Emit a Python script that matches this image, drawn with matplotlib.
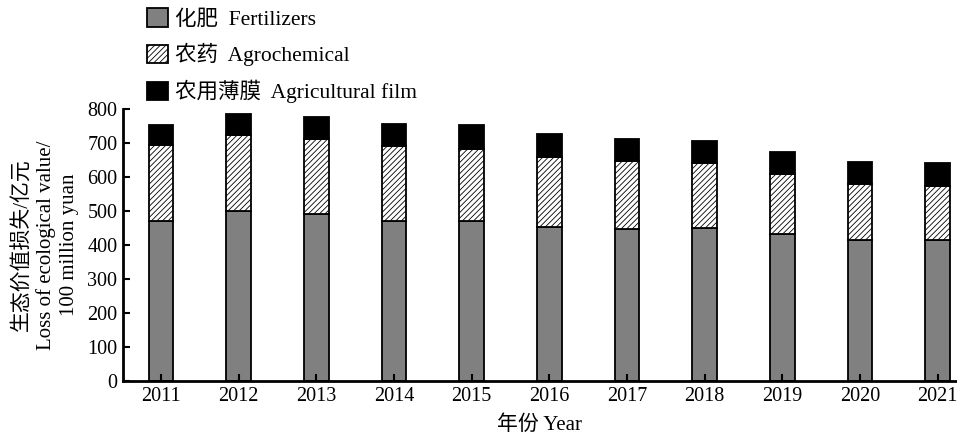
import numpy as np
import matplotlib
matplotlib.use("Agg")
import matplotlib.pyplot as plt
from matplotlib.patches import Patch

plt.rcParams['font.family'] = ['Liberation Serif', 'Noto Sans CJK SC']
plt.rcParams['hatch.color'] = '#999999'
plt.rcParams['hatch.linewidth'] = 0.6

years = ['2011', '2012', '2013', '2014', '2015', '2016',
         '2017', '2018', '2019', '2020', '2021']
# stacked totals read per year, 100 million yuan
fertilizers = [471, 499, 491, 470, 470, 453, 446, 450, 432, 415, 414]
agrochemical = [223, 225, 221, 220, 213, 207, 200, 190, 177, 164, 160]
agri_film = [58, 61, 65, 66, 69, 66, 67, 67, 65, 66, 66]
labels = ['化肥  Fertilizers', '农药  Agrochemical', '农用薄膜  Agricultural film']

fig = plt.figure(figsize=(9.57, 4.36), dpi=100)
ax = fig.add_axes([0.1285, 0.1261, 0.8715, 0.6239])

x = np.arange(len(years))
w = 0.32
f = np.array(fertilizers)
a = np.array(agrochemical)
m = np.array(agri_film)
ax.bar(x, f, w, color='#808080', edgecolor='black', linewidth=1.3)
ax.bar(x, a, w, bottom=f, color='white', edgecolor='black', linewidth=1.3, hatch='//////')
ax.bar(x, m, w, bottom=f + a, color='black', edgecolor='black', linewidth=1.3)

ax.set_xlim(-0.49, 10.25)
ax.set_ylim(0, 800)
ax.set_yticks(range(0, 801, 100))
ax.set_xticks(x)
ax.set_xticklabels(years)
for s in ['top', 'right']:
    ax.spines[s].set_visible(False)
for s in ['left', 'bottom']:
    ax.spines[s].set_linewidth(2)
ax.tick_params(direction='in', length=5, width=1.5, labelsize=14.5, pad=4)

ax.set_xlabel('年份 Year', fontsize=15, labelpad=7)
ax.set_ylabel('生态价值损失/亿元\nLoss of ecological value/\n100 million yuan',
              fontsize=15, linespacing=1.25, labelpad=6)

handles = [Patch(facecolor='#808080', edgecolor='black', linewidth=1.3),
           Patch(facecolor='white', edgecolor='black', linewidth=1.3, hatch='//////'),
           Patch(facecolor='black', edgecolor='black', linewidth=1.3)]
fig.legend(handles, labels, loc='upper left', bbox_to_anchor=(0.147, 0.996),
           frameon=False, fontsize=15.5, handlelength=0.95, handleheight=0.95,
           handletextpad=0.35, labelspacing=0.62, borderpad=0.3, borderaxespad=0)

fig.savefig('out.png', dpi=100)
